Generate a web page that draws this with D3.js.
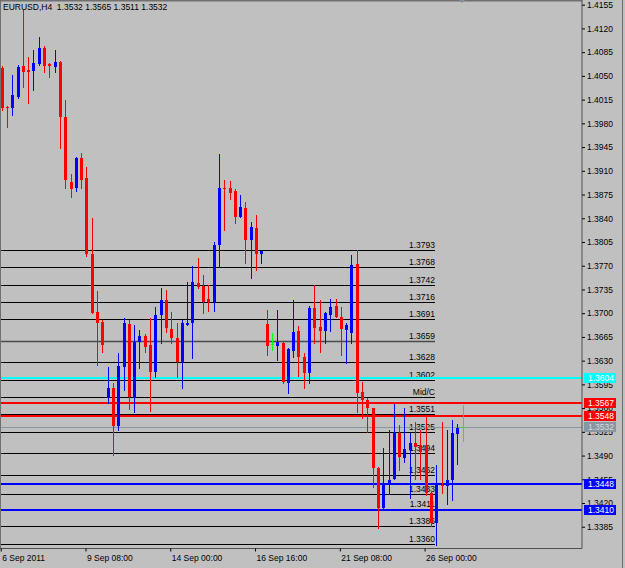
<!DOCTYPE html>
<html>
<head>
<meta charset="utf-8">
<script src="https://cdn.jsdelivr.net/npm/d3@7"></script>
<style>
body { margin: 0; background: #c0c0c0; }
text { font-family: "Liberation Sans", Arial, sans-serif; font-size: 8.5px; fill: #000; }
</style>
</head>
<body>
<div id="chart"></div>
<script>
const width = 625, height = 568;
const plotRight = 582, plotBottom = 548.5;

// title of the chart window
const symbol = "EURUSD,H4";
const lastBar = "1.3532 1.3565 1.3511 1.3532";

// H4 bars
const opens = [1.4062, 1.4004, 1.4003, 1.4019, 1.4065, 1.4058, 1.4057, 1.4067, 1.4091, 1.4067,
    1.4063, 1.4070, 1.3989, 1.3894, 1.3884, 1.3929, 1.3899, 1.3788, 1.3702, 1.3687,
    1.3575, 1.3590, 1.3533, 1.3620, 1.3684, 1.3575, 1.3657, 1.3666, 1.3653, 1.3613,
    1.3697, 1.3719, 1.3677, 1.3663, 1.3628, 1.3683, 1.3685, 1.3745, 1.3740, 1.3721,
    1.3716, 1.3800, 1.3885, 1.3884, 1.3880, 1.3842, 1.3855, 1.3808, 1.3825, 1.3787,
    1.3684, 1.3655, 1.3652, 1.3656, 1.3597, 1.3644, 1.3674, 1.3636, 1.3612, 1.3708,
    1.3679, 1.3674, 1.3697, 1.3711, 1.3695, 1.3675, 1.3671, 1.3772, 1.3584, 1.3572,
    1.3560, 1.3472, 1.3412, 1.3449, 1.3456, 1.3523, 1.3487, 1.3498, 1.3508, 1.3505,
    1.3506, 1.3435, 1.3391, 1.3447, 1.3445, 1.3454, 1.3522, 1.3532];
const highs = [1.4065, 1.4005, 1.4051, 1.4066, 1.4147, 1.4078, 1.4088, 1.4107, 1.4094, 1.4069,
    1.4088, 1.4072, 1.4014, 1.3906, 1.3930, 1.3936, 1.3915, 1.3840, 1.3732, 1.3690,
    1.3621, 1.3597, 1.3641, 1.3693, 1.3690, 1.3682, 1.3675, 1.3670, 1.3693, 1.3709,
    1.3737, 1.3734, 1.3702, 1.3685, 1.3690, 1.3746, 1.3770, 1.3781, 1.3756, 1.3741,
    1.3805, 1.3935, 1.3896, 1.3895, 1.3883, 1.3874, 1.3864, 1.3834, 1.3845, 1.3793,
    1.3705, 1.3671, 1.3705, 1.3657, 1.3648, 1.3719, 1.3681, 1.3642, 1.3711, 1.3742,
    1.3719, 1.3702, 1.3721, 1.3721, 1.3709, 1.3685, 1.3786, 1.3793, 1.3598, 1.3575,
    1.3560, 1.3473, 1.3501, 1.3528, 1.3566, 1.3535, 1.3560, 1.3523, 1.3540, 1.3527,
    1.3547, 1.3437, 1.3476, 1.3540, 1.3528, 1.3543, 1.3537, 1.3565];
const lows = [1.4000, 1.3975, 1.3992, 1.4017, 1.4034, 1.4010, 1.4029, 1.4066, 1.4056, 1.4048,
    1.4056, 1.3944, 1.3884, 1.3871, 1.3880, 1.3884, 1.3785, 1.3700, 1.3623, 1.3643,
    1.3567, 1.3491, 1.3527, 1.3587, 1.3559, 1.3554, 1.3619, 1.3643, 1.3556, 1.3606,
    1.3656, 1.3672, 1.3656, 1.3606, 1.3590, 1.3682, 1.3634, 1.3737, 1.3700, 1.3703,
    1.3703, 1.3768, 1.3823, 1.3869, 1.3833, 1.3842, 1.3774, 1.3752, 1.3764, 1.3774,
    1.3638, 1.3646, 1.3631, 1.3597, 1.3582, 1.3635, 1.3607, 1.3590, 1.3597, 1.3656,
    1.3643, 1.3656, 1.3674, 1.3694, 1.3638, 1.3627, 1.3656, 1.3554, 1.3546, 1.3525,
    1.3444, 1.3383, 1.3409, 1.3434, 1.3455, 1.3469, 1.3480, 1.3427, 1.3455, 1.3455,
    1.3432, 1.3386, 1.3358, 1.3435, 1.3418, 1.3425, 1.3477, 1.3511];
const closes = [1.4003, 1.4002, 1.4022, 1.4063, 1.4056, 1.4056, 1.4069, 1.4091, 1.4065, 1.4065,
    1.4070, 1.3989, 1.3896, 1.3883, 1.3929, 1.3897, 1.3788, 1.3701, 1.3685, 1.3653,
    1.3590, 1.3533, 1.3622, 1.3685, 1.3576, 1.3657, 1.3667, 1.3650, 1.3613, 1.3697,
    1.3719, 1.3678, 1.3663, 1.3628, 1.3685, 1.3686, 1.3746, 1.3738, 1.3716, 1.3716,
    1.3800, 1.3884, 1.3883, 1.3878, 1.3842, 1.3857, 1.3808, 1.3827, 1.3788, 1.3791,
    1.3651, 1.3655, 1.3657, 1.3598, 1.3647, 1.3672, 1.3635, 1.3612, 1.3708, 1.3678,
    1.3674, 1.3700, 1.3709, 1.3695, 1.3676, 1.3683, 1.3771, 1.3582, 1.3572, 1.3560,
    1.3472, 1.3412, 1.3449, 1.3454, 1.3523, 1.3488, 1.3500, 1.3508, 1.3502, 1.3495,
    1.3435, 1.3391, 1.3446, 1.3445, 1.3454, 1.3524, 1.3531, 1.3532];

// price scale labels
const priceTicks = [1.4155, 1.4120, 1.4085, 1.4050, 1.4015, 1.3980, 1.3945, 1.3910, 1.3875,
    1.3840, 1.3805, 1.3770, 1.3735, 1.3700, 1.3665, 1.3630, 1.3595, 1.3560, 1.3525,
    1.3490, 1.3455, 1.3420, 1.3385];

// time scale labels and the bar they sit on
const timeLabels = ["6 Sep 2011", "9 Sep 08:00", "14 Sep 00:00", "16 Sep 16:00", "21 Sep 08:00", "26 Sep 00:00"];
const timeLabelBars = [0, 16, 32, 48, 64, 80];

// black level lines with their texts
const levelPrices = [1.3793, 1.3768, 1.3742, 1.3716, 1.3691, 1.3659, 1.3628, 1.3602, 1.3577,
    1.3551, 1.3525, 1.3494, 1.3462, 1.3433, 1.3411, 1.3386, 1.3360];
const levelTexts = ["1.3793", "1.3768", "1.3742", "1.3716", "1.3691", "1.3659", "1.3628", "1.3602", "Mid/C",
    "1.3551", "1.3525", "1.3494", "1.3462", "1.3433", "1.3411", "1.3386", "1.3360"];

// full width price lines with a label on the price scale
const markPrices = [1.3604, 1.3567, 1.3548, 1.3532, 1.3448, 1.3410];
const markColors = ["#00ffff", "#ff0000", "#ff0000", "#8a95a2", "#0000ff", "#0000ff"];
const markWidths = [2, 2, 2, 1, 2, 2];

let svg = d3.select("#chart")
    .append("svg")
    .attr("width", width)
    .attr("height", height);

svg.append("rect")
    .attr("width", width)
    .attr("height", height)
    .attr("fill", "#c0c0c0");

// bar times, H4 without weekends
let times = [];
for (let t = new Date(2011, 8, 6, 16); times.length < opens.length; t = d3.timeHour.offset(t, 4)) {
    if (t.getDay() != 0 && t.getDay() != 6) times.push(t);
}

let x = d3.scalePoint()
    .domain(d3.range(opens.length))
    .range([1.7, 462.7]);

let y = d3.scaleLinear()
    .domain([1.3385, 1.4155])
    .range([526.76, 4.7]);

// snap a 1px line onto the pixel grid
let crisp = v => Math.round(v) + 0.5;

// level lines
let levels = svg.append("g");
levels.selectAll("line")
    .data(levelPrices)
    .enter()
    .append("line")
    .attr("x1", 0)
    .attr("x2", 435)
    .attr("y1", d => crisp(y(d)))
    .attr("y2", d => crisp(y(d)))
    .attr("stroke", (d, i) => i == 5 ? "#4a4a4a" : "#000")
    .attr("stroke-width", (d, i) => i == 5 ? 1.5 : 1);

levels.selectAll("text")
    .data(levelPrices)
    .enter()
    .append("text")
    .attr("x", 435)
    .attr("y", d => Math.round(y(d)) - 2)
    .style("text-anchor", "end")
    .text((d, i) => levelTexts[i]);

// price lines
svg.append("g").selectAll("line")
    .data(markPrices)
    .enter()
    .append("line")
    .attr("x1", 0)
    .attr("x2", plotRight)
    .attr("y1", (d, i) => markWidths[i] == 1 ? crisp(y(d)) : Math.round(y(d)))
    .attr("y2", (d, i) => markWidths[i] == 1 ? crisp(y(d)) : Math.round(y(d)))
    .attr("stroke", (d, i) => markColors[i])
    .attr("stroke-width", (d, i) => markWidths[i]);

// candles
let bars = d3.range(opens.length).map(i => ({
    i: i, time: times[i], o: opens[i], h: highs[i], l: lows[i], c: closes[i]
}));
let colorOf = d => d.c > d.o ? "#0000ff" : (d.c < d.o ? "#ff0000" : "#00ff00");

let candles = svg.append("g").selectAll("g")
    .data(bars)
    .enter()
    .append("g");

candles.append("line")
    .attr("x1", d => crisp(x(d.i)))
    .attr("x2", d => crisp(x(d.i)))
    .attr("y1", d => Math.round(y(d.h)))
    .attr("y2", d => Math.round(y(d.l)) + 1)
    .attr("stroke", colorOf)
    .attr("stroke-width", 1);

candles.append("rect")
    .attr("x", d => Math.round(x(d.i)) - 1)
    .attr("width", 3)
    .attr("y", d => Math.round(y(Math.max(d.o, d.c))))
    .attr("height", d => Math.max(1, Math.round(y(Math.min(d.o, d.c))) - Math.round(y(Math.max(d.o, d.c)))))
    .attr("fill", colorOf);

// frame
svg.append("line")
    .attr("x1", 0).attr("x2", plotRight)
    .attr("y1", 0.75).attr("y2", 0.75)
    .attr("stroke", "#707070").attr("stroke-width", 1.5);
svg.append("line")
    .attr("x1", 0.5).attr("x2", 0.5)
    .attr("y1", 0).attr("y2", plotBottom)
    .attr("stroke", "#707070");
svg.append("line")
    .attr("x1", plotRight).attr("x2", plotRight)
    .attr("y1", 0).attr("y2", plotBottom)
    .attr("stroke", "#505050");
svg.append("line")
    .attr("x1", 0).attr("x2", plotRight)
    .attr("y1", plotBottom).attr("y2", plotBottom)
    .attr("stroke", "#505050");
svg.append("line")
    .attr("x1", 622.5).attr("x2", 622.5)
    .attr("y1", 0).attr("y2", height)
    .attr("stroke", "#707070");

// shift marker on top
svg.append("path")
    .attr("d", "M459,0 L465,0 L462,3 Z")
    .attr("fill", "#8090a0");

// price axis
let yAxis = svg.append("g")
    .attr("transform", `translate(${plotRight}, 0)`)
    .call(d3.axisRight(y).tickValues(priceTicks).tickSize(3).tickPadding(2).tickFormat(d3.format(".4f")));
yAxis.select(".domain").remove();
yAxis.selectAll("line").attr("stroke", "#000");
yAxis.selectAll("text").attr("font-size", null).attr("font-family", null);

// price boxes on the axis
let boxes = svg.append("g").selectAll("g")
    .data(markPrices)
    .enter()
    .append("g")
    .attr("transform", d => `translate(584, ${Math.round(y(d))})`);
boxes.append("rect")
    .attr("x", 0)
    .attr("y", -5)
    .attr("width", 32)
    .attr("height", 10)
    .attr("fill", (d, i) => markColors[i]);
boxes.append("text")
    .attr("x", 4)
    .attr("dy", "0.35em")
    .style("fill", (d, i) => i == 3 ? "#d4d8dc" : "#ffffff")
    .text(d => d3.format(".4f")(d));

// time axis
let xAxis = svg.append("g")
    .attr("transform", `translate(-1, ${plotBottom})`)
    .call(d3.axisBottom(x).tickValues(timeLabelBars).tickSize(3).tickPadding(3)
        .tickFormat((d, i) => timeLabels[i]));
xAxis.select(".domain").remove();
xAxis.selectAll("line").attr("stroke", "#000");
xAxis.selectAll("text")
    .attr("font-size", null).attr("font-family", null)
    .attr("x", 1)
    .style("text-anchor", "start");

// title
svg.append("text")
    .attr("x", 3)
    .attr("y", 10)
    .text(`${symbol}  ${lastBar}`)
    .attr("xml:space", "preserve")
    .style("white-space", "pre");
</script>
</body>
</html>
